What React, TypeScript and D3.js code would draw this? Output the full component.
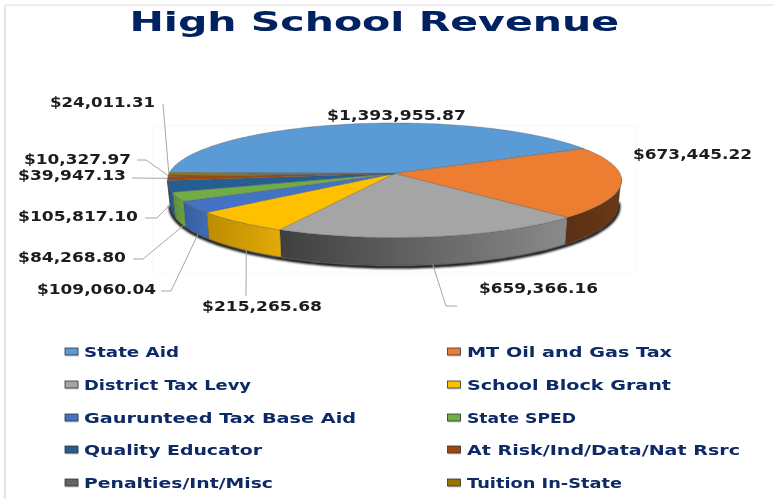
import React from "react";
import * as d3 from "d3";

const categories = ["State Aid","MT Oil and Gas Tax","District Tax Levy","School Block Grant","Gaurunteed Tax Base Aid","State SPED","Quality Educator","At Risk/Ind/Data/Nat Rsrc","Penalties/Int/Misc","Tuition In-State"];
const values = [1393955.87,673445.22,659366.16,215265.68,109060.04,84268.8,105817.1,39947.13,10327.97,24011.31];
const valueLabels = ["$1,393,955.87","$673,445.22","$659,366.16","$215,265.68","$109,060.04","$84,268.80","$105,817.10","$39,947.13","$10,327.97","$24,011.31"];

const colors = ["#5B9BD5","#ED7D31","#A5A5A5","#FFC000","#4472C4","#70AD47","#255E91","#9E480E","#636363","#997300"];
const sideFrom = ["#5B9BD5","#6b3a18","#8a8a8a","#e2aa06","#3e6cb4","#6aa043","#23598a","#8f410d","#5a5a5a","#8a6800"];
const sideTo = ["#5B9BD5","#5a2f12","#3f3f3f","#bb8c00","#355f9f","#5a8a38","#1d4c76","#7a370b","#4c4c4c","#755800"];

// label box [left, right, vertical centre], elbow points, how far down the wall the leader ends, angle nudge in degrees
const labelBoxes: [number, number, number][] = [[327,466,114.5],[633,752,153],[479,598,287],[202,322,305],[37,156,288],[18,126,256],[18,138,215],[18,126,174],[24,131,158],[50,155,101]];
const leaders: ({ pts: [number, number][]; depth: number; nudge: number } | null)[] = [
  null, null,
  { pts: [[457,306],[446,306]], depth: 1, nudge: 0 },
  { pts: [[246,296]], depth: 1, nudge: -1.7 },
  { pts: [[161,291],[171,291]], depth: 1, nudge: -1 },
  { pts: [[133,259],[143,259]], depth: 1, nudge: -3 },
  { pts: [[145,218],[157,218]], depth: 0.7, nudge: 0 },
  { pts: [[132,178]], depth: 0, nudge: 0 },
  { pts: [[137,160],[146,160]], depth: 0, nudge: 0 },
  { pts: [[163,104]], depth: 0, nudge: 0 },
];

const legendXs = [[64.5,84],[447,467]];
const legendYs = [352,385,418,450,483];
const legendRight = [179,672,251,671,356,576,262,740,273,622];

const hub = { x: 394.5, y: 173.5 };
const A = 225.5, B = 56.5, P = 0.118, DEPTH = 24.5;
const rad = (a: number) => (a * Math.PI) / 180;
function project(a: number, d = 0): [number, number] {
  const u = Math.sin(a), v = -Math.cos(a), w = 1 - P * v;
  return [hub.x + (A * (1 - d * 0.012) * u) / w, hub.y + (B * v + d * DEPTH) / w];
}

const pie = d3.pie<number>().sort(null).startAngle(rad(-89)).endAngle(rad(271));
const arcs = pie(values);
const line = d3.line();
const sample = (a0: number, a1: number, d = 0) => {
  const n = Math.max(2, Math.ceil(Math.abs(a1 - a0) / rad(1.5)));
  return d3.range(n + 1).map((i) => project(a0 + ((a1 - a0) * i) / n, d));
};
const SIDE0 = rad(94), SIDE1 = rad(263);
const FONT = "'DejaVu Sans', sans-serif";

export default function App() {
  return (
    <svg width={773} height={499} style={{ position: "absolute", left: 0, top: 0, background: "#fff" }}>
      <defs>
        <filter id="soft" x="-10%" y="-10%" width="120%" height="120%"><feGaussianBlur stdDeviation="1" /></filter>
        <filter id="tx" x="-5%" y="-20%" width="110%" height="140%"><feGaussianBlur stdDeviation="0.35" /></filter>
        {arcs.map((s, i) => {
          const a0 = Math.max(s.startAngle, SIDE0), a1 = Math.min(s.endAngle, SIDE1);
          if (a1 <= a0) return null;
          const p0 = project(a0), p1 = project(a1);
          return (
            <linearGradient key={i} id={`g${i}`} gradientUnits="userSpaceOnUse" x1={Math.min(p0[0], p1[0])} x2={Math.max(p0[0], p1[0])} y1={0} y2={0}>
              <stop offset="0" stopColor={p0[0] > p1[0] ? sideTo[i] : sideFrom[i]} />
              <stop offset="1" stopColor={p0[0] > p1[0] ? sideFrom[i] : sideTo[i]} />
            </linearGradient>
          );
        })}
      </defs>
      <rect x={4} y={4} width={2} height={495} fill="#e4e4e4" />
      <rect x={4} y={4} width={769} height={2} fill="#eeeeee" />
      <rect x={153} y={126} width={483} height={146} fill="none" stroke="#f8f8f8" />

      <text x={129.5} y={31} fontFamily={FONT} fontWeight={700} fontSize={27} fill="#002060" textLength={489.5} lengthAdjust="spacingAndGlyphs" filter="url(#tx)">High School Revenue</text>

      {/* ground shadow under the wall */}
      <path d={line(sample(SIDE0 - 0.02, SIDE1 + 0.02, 1.04).map(([x, y]) => [x, y + 0.5]))!} fill="none" stroke="#000" strokeWidth={3.2} filter="url(#soft)" />

      {/* side walls */}
      {arcs.map((s, i) => {
        const a0 = Math.max(s.startAngle, SIDE0), a1 = Math.min(s.endAngle, SIDE1);
        if (a1 <= a0) return null;
        const pts = [...sample(a0, a1, 0), ...sample(a1, a0, 1)];
        return <path key={i} d={line(pts)! + "Z"} fill={`url(#g${i})`} stroke="#333" strokeWidth={0.5} strokeOpacity={0.6} />;
      })}

      {/* top faces */}
      {arcs.map((s, i) => (
        <path key={i} d={line([[hub.x, hub.y], ...sample(s.startAngle, s.endAngle)])! + "Z"} fill={colors[i]} stroke="#555" strokeWidth={0.5} strokeOpacity={0.7} />
      ))}

      {/* leader lines */}
      {arcs.map((s, i) => {
        const l = leaders[i];
        if (!l) return null;
        const end = project((s.startAngle + s.endAngle) / 2 + rad(l.nudge), l.depth);
        return <path key={i} d={line([...l.pts, end])!} fill="none" stroke="#a6a6a6" strokeWidth={1} />;
      })}

      {/* data labels */}
      {valueLabels.map((t, i) => {
        const [l, r, c] = labelBoxes[i];
        return <text key={i} x={l} y={c + 5.5} fontFamily={FONT} fontWeight={700} fontSize={14} fill="#1c1c1c" textLength={r - l} lengthAdjust="spacingAndGlyphs" filter="url(#tx)">{t}</text>;
      })}

      {/* legend */}
      {categories.map((t, i) => {
        const col = i % 2, row = (i - col) / 2;
        const [sx, tx] = legendXs[col];
        const y = legendYs[row];
        return (
          <g key={i}>
            <rect x={sx + 0.5} y={y - 3.5} width={13} height={7} fill="#ccc" transform="translate(0.5,1)" />
            <rect x={sx + 0.5} y={y - 4} width={13} height={7} fill={colors[i]} stroke="#333" strokeWidth={0.8} />
            <text x={tx} y={y + 5} fontFamily={FONT} fontWeight={700} fontSize={13.5} fill="#0e2a66" textLength={legendRight[i] - tx} lengthAdjust="spacingAndGlyphs" filter="url(#tx)">{t}</text>
          </g>
        );
      })}
    </svg>
  );
}
